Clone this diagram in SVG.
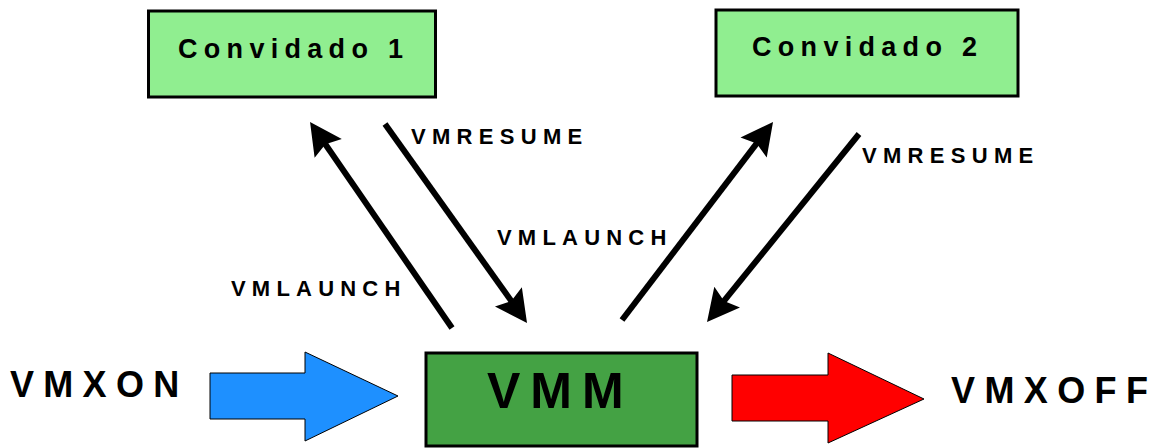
<svg xmlns="http://www.w3.org/2000/svg" width="1162" height="448" viewBox="0 0 1162 448">
  <style>
    .t { font-family: "Liberation Sans", Arial, sans-serif; font-weight: bold; fill: #000; }
    .guest { fill: #90EE90; stroke: #000; stroke-width: 3; }
    .vmm { fill: #44A244; stroke: #000; stroke-width: 3; }
    .conn { stroke: #000; stroke-width: 6; fill: none; marker-end: url(#head); }
  </style>
  <defs>
    <marker id="head" markerUnits="userSpaceOnUse" orient="auto" refX="0" refY="0" markerWidth="40" markerHeight="40" overflow="visible">
      <path d="M20,0 L-12,-16.5 L-7,0 L-12,16.5 Z" fill="#000"/>
    </marker>
  </defs>
  <rect width="1162" height="448" fill="#fff"/>

  <g id="convidado1">
    <rect class="guest" x="148.5" y="11" width="287" height="86"/>
    <text class="t" x="178" y="58" font-size="27" letter-spacing="6.3">Convidado 1</text>
  </g>
  <g id="convidado2">
    <rect class="guest" x="716" y="10" width="302" height="86"/>
    <text class="t" x="752" y="56" font-size="27" letter-spacing="6.3">Convidado 2</text>
  </g>
  <g id="vmm">
    <rect class="vmm" x="426" y="353" width="271" height="93"/>
    <text class="t" x="487" y="408" font-size="50" letter-spacing="10">VMM</text>
  </g>
  <g id="vmxon">
    <polygon points="210,373 305,373 305,352 398,396 305,441 305,419 210,419" fill="#1E90FF" stroke="#000" stroke-width="1"/>
    <text class="t" x="10" y="397" font-size="36" letter-spacing="9.3">VMXON</text>
  </g>
  <g id="vmxoff">
    <polygon points="732,375 828,375 828,353 924,399 828,443 828,421 732,421" fill="#FF0000" stroke="#000" stroke-width="1"/>
    <text class="t" x="951" y="403" font-size="36" letter-spacing="9.4">VMXOFF</text>
  </g>

  <g id="connectors">
    <line class="conn" x1="452" y1="328" x2="321.4" y2="138.5"/>
    <line class="conn" x1="385" y1="124" x2="515.4" y2="306.7"/>
    <line class="conn" x1="622" y1="320" x2="760.9" y2="137.9"/>
    <line class="conn" x1="859" y1="134" x2="719.6" y2="306.4"/>
    <text class="t" x="231" y="296" font-size="22" letter-spacing="6.2">VMLAUNCH</text>
    <text class="t" x="411" y="144" font-size="22" letter-spacing="6.3">VMRESUME</text>
    <text class="t" x="497" y="245" font-size="22" letter-spacing="6.2">VMLAUNCH</text>
    <text class="t" x="862" y="163" font-size="22" letter-spacing="6.3">VMRESUME</text>
  </g>
</svg>
